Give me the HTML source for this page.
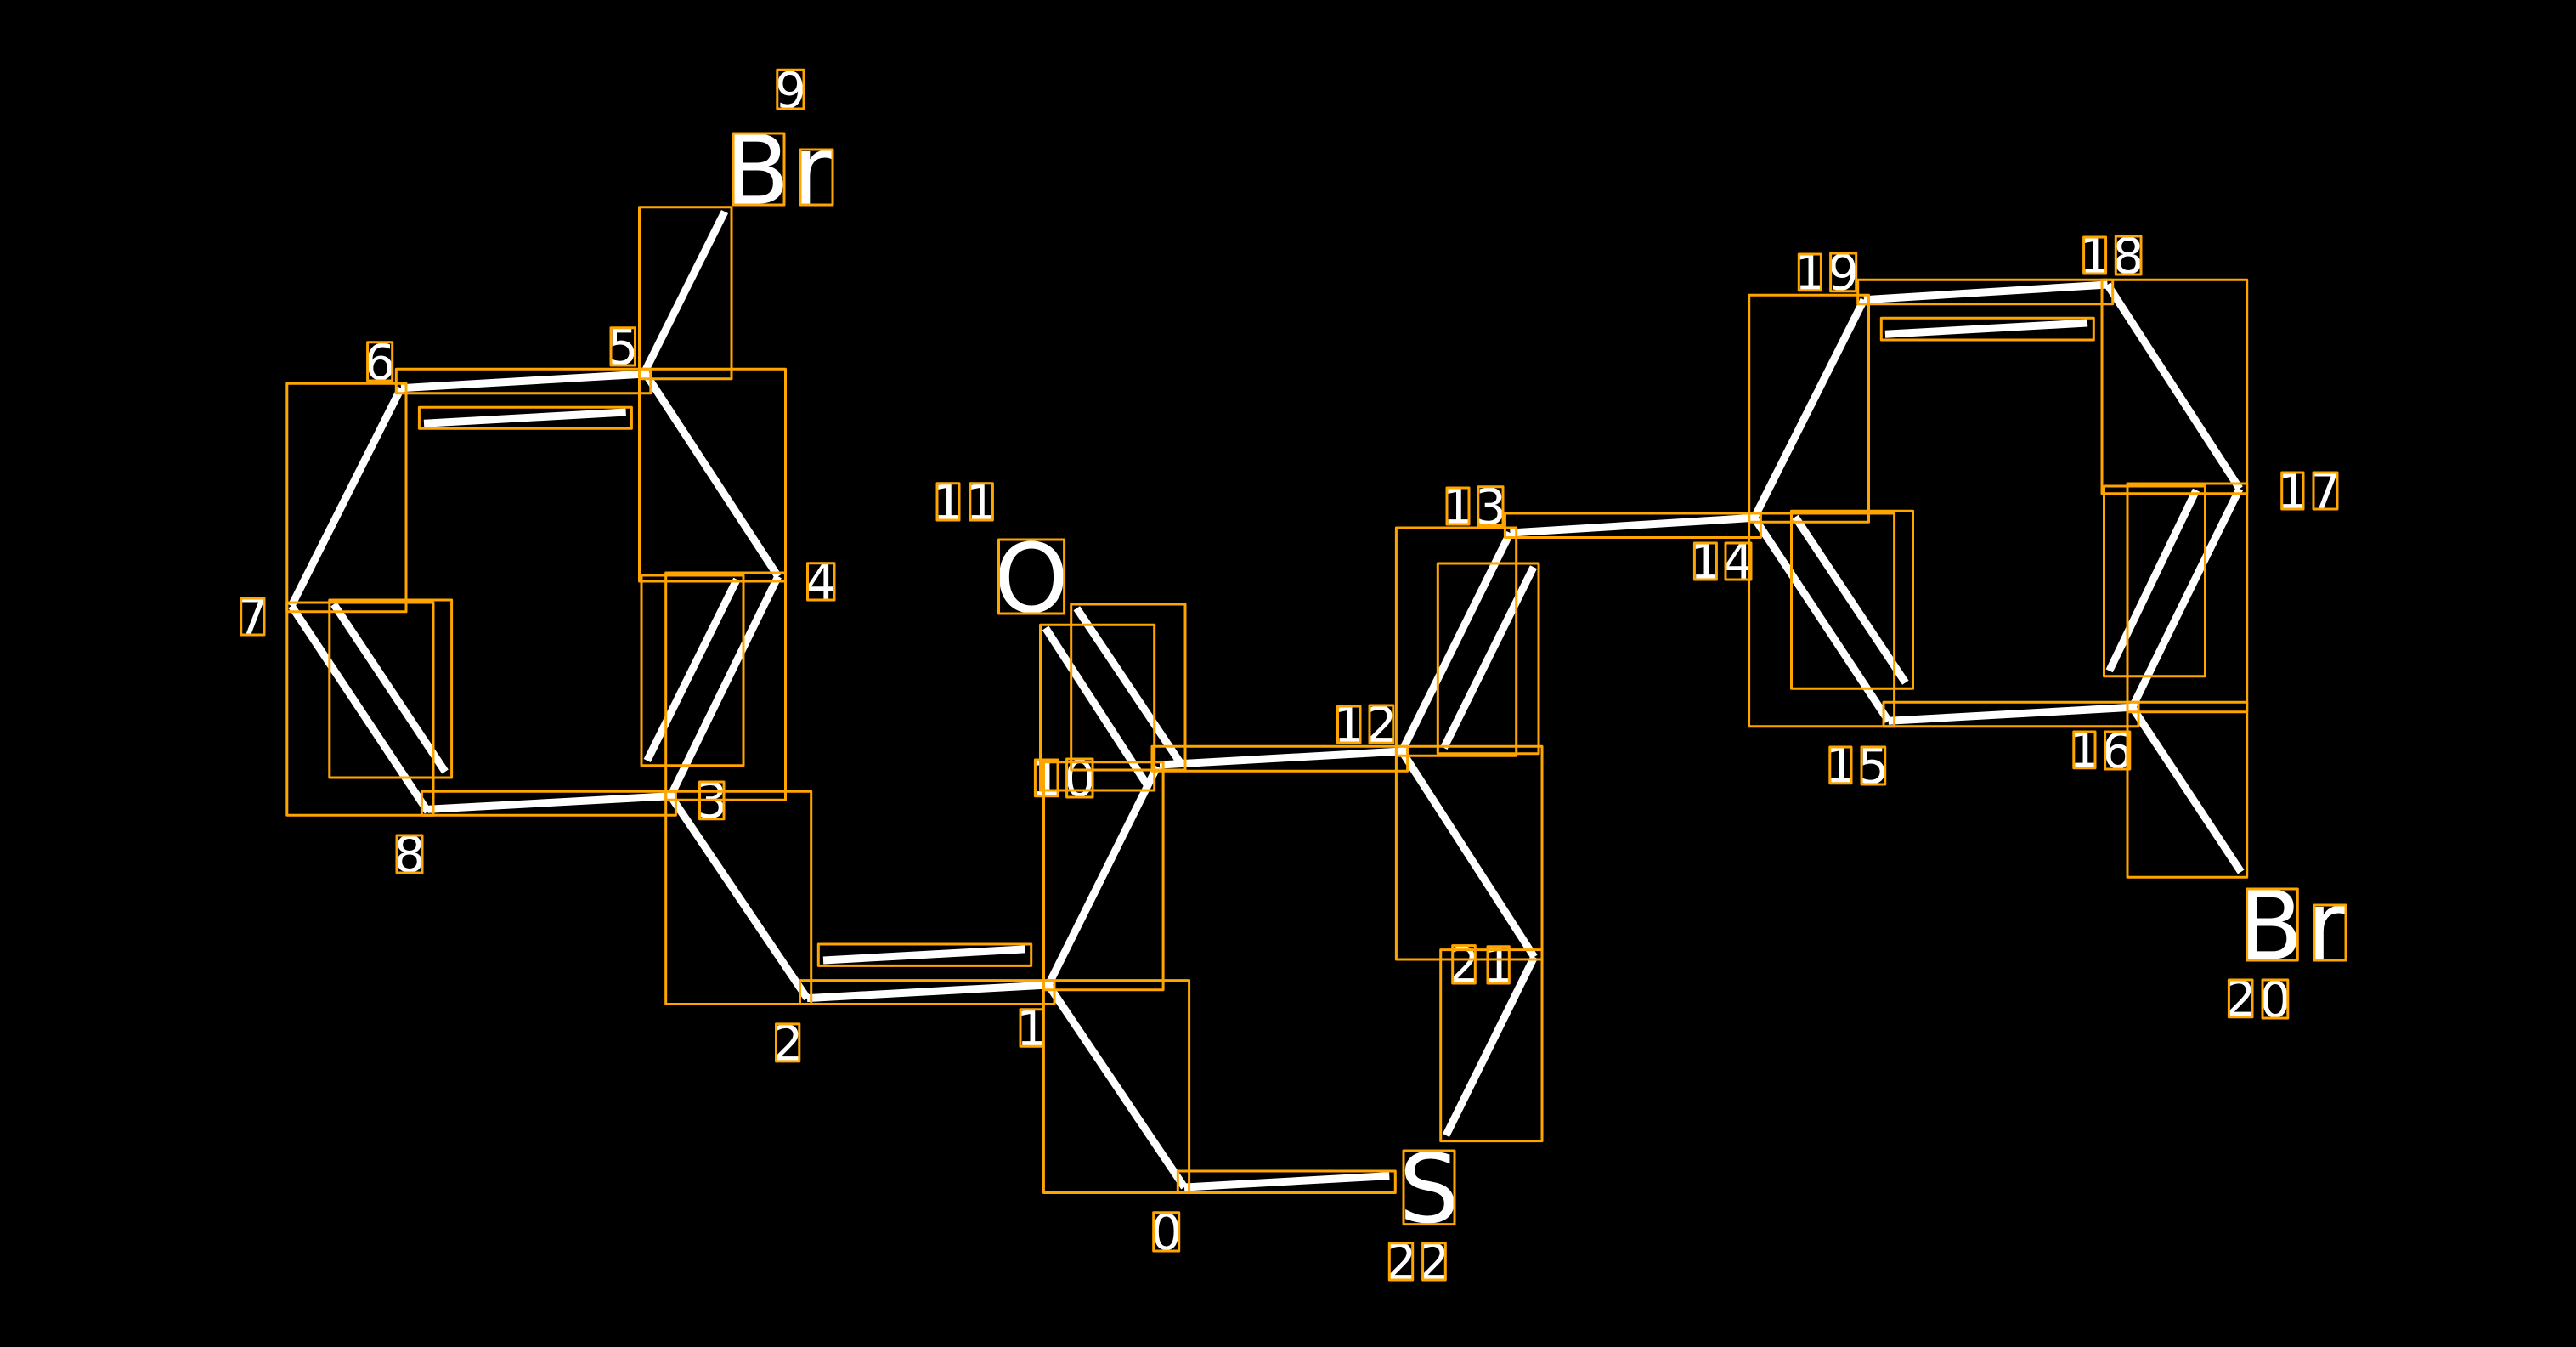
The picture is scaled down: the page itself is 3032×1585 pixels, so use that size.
<!DOCTYPE html>
<html><head><meta charset="utf-8"><style>
html,body{margin:0;padding:0;background:#000}
svg{display:block}
text{font-family:"DejaVu Sans","Liberation Sans",sans-serif;fill:#fff;text-anchor:middle}
.d{font-size:58px}.L{font-size:112px}
rect{fill:none;stroke:#ffa500;stroke-width:3;stroke-linejoin:round}
line{stroke:#fff;stroke-width:9;stroke-linecap:butt}
</style></head><body>
<svg width="3032" height="1585" viewBox="0 0 3032 1585" xmlns="http://www.w3.org/2000/svg">
<g>
<line x1="1394" y1="1397" x2="1635.3" y2="1383.6"/>
<line x1="1394" y1="1397" x2="1234" y2="1159"/>
<line x1="1234" y1="1159" x2="950" y2="1174.6"/>
<line x1="950" y1="1174.6" x2="789.3" y2="936.7"/>
<line x1="789.3" y1="936.7" x2="915.8" y2="678.3"/>
<line x1="915.8" y1="678.3" x2="760" y2="440"/>
<line x1="760" y1="440" x2="472" y2="456.7"/>
<line x1="472" y1="456.7" x2="343" y2="713"/>
<line x1="343" y1="713" x2="503.6" y2="955"/>
<line x1="503.6" y1="952.3" x2="789.3" y2="936.7"/>
<line x1="757.6" y1="440" x2="853" y2="249"/>
<line x1="1234" y1="1159" x2="1362" y2="902"/>
<line x1="1365" y1="900" x2="1650" y2="884"/>
<line x1="1650" y1="884" x2="1777.5" y2="627"/>
<line x1="1777.5" y1="627" x2="2064.8" y2="609.3"/>
<line x1="2064.8" y1="609.3" x2="2222.7" y2="848.3"/>
<line x1="2222.7" y1="848.3" x2="2509.7" y2="832.3"/>
<line x1="2509.7" y1="832.3" x2="2636" y2="575"/>
<line x1="2636" y1="575" x2="2480.6" y2="335"/>
<line x1="2480.6" y1="335" x2="2193.9" y2="352.7"/>
<line x1="2193.9" y1="352.7" x2="2064.8" y2="609.3"/>
<line x1="2509.7" y1="832.3" x2="2637.7" y2="1026"/>
<line x1="1650" y1="884" x2="1805.8" y2="1126"/>
<line x1="1805.8" y1="1126" x2="1702" y2="1336"/>
<line x1="499" y1="498.3" x2="736.7" y2="485"/>
<line x1="392.9" y1="711" x2="524" y2="908"/>
<line x1="761.7" y1="895" x2="867.3" y2="681.7"/>
<line x1="969" y1="1130" x2="1206.7" y2="1116.9"/>
<line x1="1805" y1="667.3" x2="1699.5" y2="880"/>
<line x1="2113" y1="608.3" x2="2242.8" y2="803.3"/>
<line x1="2218.9" y1="393.3" x2="2457" y2="380"/>
<line x1="2585" y1="576.7" x2="2482.7" y2="789.3"/>
<line x1="1230.6" y1="739" x2="1350" y2="923.3"/>
<line x1="1267.3" y1="715.7" x2="1390.8" y2="900"/>
</g>
<g>
<text class="L" x="891" y="239.5">B</text>
<text class="L" x="956" y="239.5">r</text>
<text class="L" x="1214" y="720">O</text>
<text class="L" x="1682" y="1438">S</text>
<text class="L" x="2672.5" y="1128.5">B</text>
<text class="L" x="2737.5" y="1128.5">r</text>
<text class="d" x="1372.7" y="1470">0</text>
<text class="d" x="1214.5" y="1230">1</text>
<text class="d" x="927" y="1248">2</text>
<text class="d" x="837.7" y="962">3</text>
<text class="d" x="966" y="705">4</text>
<text class="d" x="733" y="428.5">5</text>
<text class="d" x="447" y="446.5">6</text>
<text class="d" x="297.5" y="746">7</text>
<text class="d" x="482" y="1025.5">8</text>
<text class="d" x="930.5" y="126.5">9</text>
<text class="d" x="1231.7" y="936">1</text>
<text class="d" x="1270.8" y="936.5">0</text>
<text class="d" x="1116" y="611">1</text>
<text class="d" x="1155" y="611">1</text>
<text class="d" x="1587.7" y="873">1</text>
<text class="d" x="1626" y="873">2</text>
<text class="d" x="1716" y="616">1</text>
<text class="d" x="1754.4" y="616.5">3</text>
<text class="d" x="2007.4" y="681">1</text>
<text class="d" x="2046" y="681">4</text>
<text class="d" x="2166.4" y="920.5">1</text>
<text class="d" x="2205" y="921.5">5</text>
<text class="d" x="2453.4" y="902.5">1</text>
<text class="d" x="2492.2" y="903.5">6</text>
<text class="d" x="2698.4" y="598">1</text>
<text class="d" x="2737" y="598">7</text>
<text class="d" x="2465.6" y="321">1</text>
<text class="d" x="2505" y="321.5">8</text>
<text class="d" x="2130.4" y="340.5">1</text>
<text class="d" x="2169.6" y="341">9</text>
<text class="d" x="2637" y="1195.5">2</text>
<text class="d" x="2678" y="1196.5">0</text>
<text class="d" x="1723" y="1156">2</text>
<text class="d" x="1763.7" y="1156">1</text>
<text class="d" x="1649" y="1505">2</text>
<text class="d" x="1688" y="1505">2</text>
</g>
<g>
<rect x="752.5" y="243.7" width="108.5" height="202"/>
<rect x="466.3" y="434.3" width="299.5" height="28.4"/>
<rect x="752.5" y="434.3" width="172" height="249.7"/>
<rect x="337.8" y="451.3" width="140.2" height="268.4"/>
<rect x="493.4" y="479.3" width="250" height="25"/>
<rect x="337.8" y="709" width="172.2" height="250.3"/>
<rect x="387.8" y="706" width="143.8" height="209"/>
<rect x="496.4" y="931.3" width="299" height="28"/>
<rect x="783.7" y="674" width="140.8" height="267.3"/>
<rect x="755" y="677" width="120" height="223.7"/>
<rect x="783.7" y="931.3" width="171" height="250.2"/>
<rect x="963.3" y="1111" width="250.4" height="25.4"/>
<rect x="941.5" y="1153.6" width="299.5" height="27.9"/>
<rect x="1228.5" y="896.7" width="140.6" height="268"/>
<rect x="1228.4" y="1153.6" width="171.2" height="249.9"/>
<rect x="1386.3" y="1378" width="256" height="25.5"/>
<rect x="1260.7" y="711" width="134.3" height="195"/>
<rect x="1224.5" y="735.3" width="134.2" height="194.7"/>
<rect x="1356" y="878.3" width="300.6" height="29"/>
<rect x="1643.4" y="621" width="141.3" height="268.3"/>
<rect x="1692.3" y="663" width="118.7" height="223.7"/>
<rect x="1643.4" y="878.3" width="171.6" height="250.7"/>
<rect x="1695.7" y="1117.6" width="119.3" height="225"/>
<rect x="1771.4" y="604" width="301" height="28.5"/>
<rect x="2058.7" y="347.3" width="140.8" height="267"/>
<rect x="2058.6" y="604" width="171" height="250.7"/>
<rect x="2108.5" y="601.3" width="143" height="209"/>
<rect x="2217" y="826.3" width="300" height="28.4"/>
<rect x="2186.7" y="329.3" width="300" height="28.4"/>
<rect x="2214.3" y="374.3" width="250" height="25.7"/>
<rect x="2474" y="329.3" width="170.7" height="251.4"/>
<rect x="2504" y="569" width="140.7" height="268.7"/>
<rect x="2476.5" y="572" width="119" height="223.7"/>
<rect x="2504" y="826.3" width="140.7" height="206"/>
<rect x="863" y="157" width="60" height="84"/>
<rect x="942" y="176" width="38" height="65"/>
<rect x="914.8" y="82.3" width="31.2" height="45.7"/>
<rect x="719" y="385.7" width="28.5" height="44.3"/>
<rect x="432.6" y="402.7" width="29.1" height="45.3"/>
<rect x="283.7" y="704" width="27.3" height="43"/>
<rect x="950.5" y="662.7" width="31.5" height="43.3"/>
<rect x="823.5" y="920" width="28.5" height="43.7"/>
<rect x="467" y="983" width="30" height="44"/>
<rect x="913.5" y="1204.9" width="27.3" height="44"/>
<rect x="1201" y="1187.7" width="26.7" height="43.6"/>
<rect x="1357.7" y="1426.8" width="30" height="45.2"/>
<rect x="1652" y="1354" width="60" height="86.6"/>
<rect x="1635.3" y="1462.8" width="27.4" height="43.2"/>
<rect x="1674.6" y="1462.8" width="26.7" height="43.2"/>
<rect x="1709.7" y="1112.6" width="26.6" height="44.4"/>
<rect x="1751" y="1113.8" width="25.3" height="43.2"/>
<rect x="1103" y="568.7" width="26" height="43.3"/>
<rect x="1141.8" y="568.7" width="26.6" height="43.3"/>
<rect x="1175.5" y="635" width="77.1" height="87"/>
<rect x="1218.4" y="894" width="26.6" height="42.7"/>
<rect x="1255.6" y="893" width="30.4" height="45"/>
<rect x="1574.5" y="831" width="26.5" height="43"/>
<rect x="1612" y="830" width="27.8" height="44.3"/>
<rect x="1703" y="574" width="26" height="43"/>
<rect x="1739.8" y="572.7" width="29.2" height="45.6"/>
<rect x="1994.4" y="639" width="26" height="43"/>
<rect x="2031" y="639" width="30" height="43"/>
<rect x="2117.3" y="299" width="26.1" height="42.7"/>
<rect x="2154.6" y="298" width="30.1" height="44.7"/>
<rect x="2452.6" y="279" width="26" height="43"/>
<rect x="2490.3" y="278" width="29.7" height="45"/>
<rect x="2685.7" y="556" width="25.3" height="43"/>
<rect x="2723" y="556" width="28" height="43"/>
<rect x="2153.8" y="879" width="25.2" height="42.7"/>
<rect x="2191" y="879" width="27.7" height="44"/>
<rect x="2440.8" y="861" width="25.2" height="42.7"/>
<rect x="2477.6" y="861" width="29.2" height="44"/>
<rect x="2644.6" y="1046" width="59.7" height="84"/>
<rect x="2723.8" y="1065" width="37.2" height="65"/>
<rect x="2623.4" y="1153" width="27.6" height="43.7"/>
<rect x="2663" y="1153" width="29.8" height="45"/>
</g>
</svg>
</body></html>
